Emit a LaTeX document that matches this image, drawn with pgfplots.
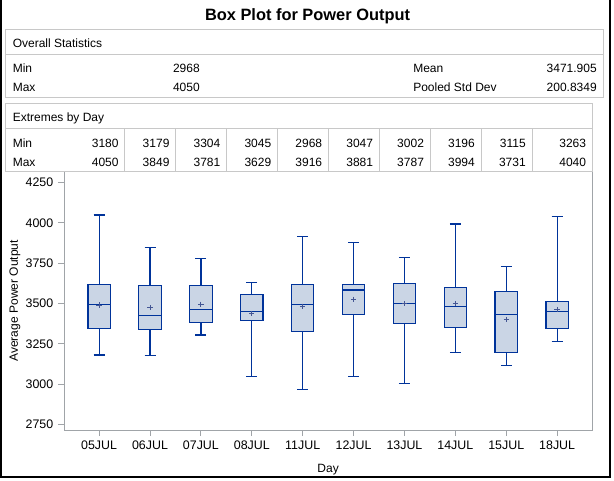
\documentclass[border=0pt]{standalone}
\usepackage{fontspec}
\setmainfont{Liberation Sans}
\usepackage{pgfplots}
\pgfplotsset{compat=1.18}
\usepgfplotslibrary{statistics}

\definecolor{boxline}{HTML}{00339A}
\definecolor{boxfill}{HTML}{CAD5E5}
\definecolor{meanc}{HTML}{445694}
\definecolor{axisgray}{HTML}{A0A4A8}
\definecolor{tablegray}{HTML}{C8C8C8}

\newcommand{\tabfont}{\fontsize{9}{11}\selectfont}

\pgfplotsset{
  daybox/.style={
    boxplot prepared={
      lower whisker=#1, box extend=0.44, whisker extend=0.216
    },
  },
}

% one box: position, min, q1, median, q3, max
\newcommand{\daybox}[6]{%
  \addplot[draw=boxline, fill=boxfill, line width=0.9pt, solid, mark=none,
    boxplot prepared={draw position=#1, lower whisker=#2, lower quartile=#3,
      median=#4, upper quartile=#5, upper whisker=#6,
      box extend=0.44, whisker extend=0.216}]
    coordinates {};}

\begin{document}
\begin{tikzpicture}
\begin{axis}[
  at={(48pt,-322.5pt)}, anchor=south west,
  scale only axis, width=396.2pt, height=193.7pt,
  xmin=-0.69, xmax=9.69, ymin=2714.6, ymax=4318,
  xtick={0,...,9},
  xticklabels={05JUL,06JUL,07JUL,08JUL,11JUL,12JUL,13JUL,14JUL,15JUL,18JUL},
  ytick={2750,3000,3250,3500,3750,4000,4250},
  /pgf/number format/1000 sep={},
  /pgf/number format/assume math mode=true,
  ticklabel style={font=\fontsize{9.3}{11}\selectfont},
  axis line style={axisgray, line width=0.75pt},
  tick style={axisgray, line width=0.75pt},
  tick align=outside, major tick length=4.5pt,
  xtick pos=left, ytick pos=left,
  xlabel={Day}, ylabel={Average Power Output},
  label style={font=\tabfont},
  xlabel style={at={(axis description cs:0.5,-0.1626)}, anchor=base},
  ylabel style={at={(axis description cs:-0.0927,0.5)}, anchor=center},
  boxplot/draw direction=y,
]
\daybox{0}{3180}{3346}{3495}{3619}{4050}
\daybox{1}{3179}{3340}{3427}{3613}{3849}
\daybox{2}{3304}{3383}{3464}{3613}{3781}
\daybox{3}{3045}{3395}{3451}{3557}{3629}
\daybox{4}{2968}{3327}{3495}{3619}{3916}
\daybox{5}{3047}{3433}{3584}{3619}{3881}
\daybox{6}{3002}{3377}{3501}{3625}{3787}
\daybox{7}{3196}{3352}{3482}{3600}{3994}
\daybox{8}{3115}{3197}{3433}{3575}{3731}
\daybox{9}{3263}{3346}{3451}{3513}{4040}
\addplot[only marks, mark=+, mark size=2pt, color=meanc,
  mark options={line width=0.75pt}]
  coordinates {(0,3490) (1,3474) (2,3495) (3,3437) (4,3482)
               (5,3526) (6,3499) (7,3499) (8,3400) (9,3462)};
\end{axis}

\begin{scope}[x=0.75pt, y=-0.75pt]
  % title
  \node[anchor=base, inner sep=0pt, font=\bfseries\fontsize{12.3}{14}\selectfont]
    at (307.5,20.3) {Box Plot for Power Output};
  % overall statistics table
  \draw[tablegray, line width=0.75pt] (5,29.3) rectangle (603,97.3);
  \draw[tablegray, line width=0.75pt] (5,54.3) -- (603,54.3);
  \begin{scope}[every node/.style={inner sep=0pt, font=\tabfont}]
    \node[anchor=base west] at (12.5,47) {Overall Statistics};
    \node[anchor=base west] at (12.5,72.3) {Min};
    \node[anchor=base west] at (12.5,91.8) {Max};
    \node[anchor=base east] at (200,72.3) {2968};
    \node[anchor=base east] at (200,91.8) {4050};
    \node[anchor=base west] at (413,72.3) {Mean};
    \node[anchor=base west] at (413,91.8) {Pooled Std Dev};
    \node[anchor=base east] at (597,72.3) {3471.905};
    \node[anchor=base east] at (597,91.8) {200.8349};
  \end{scope}
  % extremes table
  \draw[tablegray, line width=0.75pt] (5,103.7) rectangle (592.3,171.7);
  \draw[tablegray, line width=0.75pt] (5,128.7) -- (592.3,128.7);
  \foreach \i in {0,...,8}
    \draw[tablegray, line width=0.75pt] ({124.8+50.9*\i},128.7) -- ({124.8+50.9*\i},171.7);
  \begin{scope}[every node/.style={inner sep=0pt, font=\tabfont}]
    \node[anchor=base west] at (12.5,121.3) {Extremes by Day};
    \node[anchor=base west] at (12.5,147.6) {Min};
    \node[anchor=base west] at (12.5,166.6) {Max};
    \foreach \lo/\hi [count=\k from 0] in {3180/4050,3179/3849,3304/3781,3045/3629,
        2968/3916,3047/3881,3002/3787,3196/3994,3115/3731,3263/4040} {
      \pgfmathsetmacro{\xr}{\k<9 ? 118.8+50.9*\k : 586.3}
      \node[anchor=base east] at (\xr,147.6) {\lo};
      \node[anchor=base east] at (\xr,166.6) {\hi};
    }
  \end{scope}
  % outer frame
  \draw[black, line width=1.5pt] (1,-3) -- (1,477) -- (610,477) -- (610,-3);
  \pgfresetboundingbox
  \useasboundingbox (0,0) rectangle (614,480);
\end{scope}
\end{tikzpicture}
\end{document}
